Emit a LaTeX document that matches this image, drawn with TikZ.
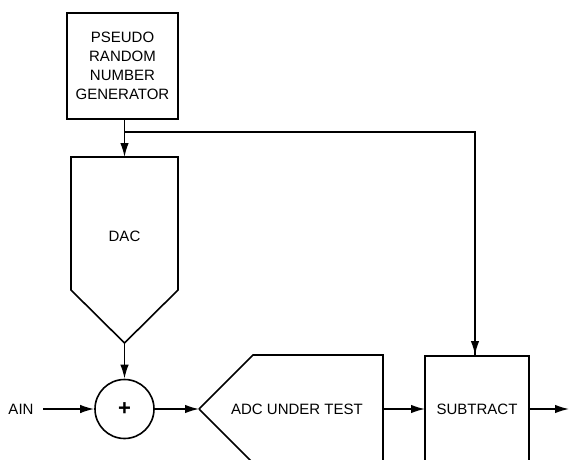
\documentclass[tikz,border=0pt]{standalone}
\usepackage{fontspec}
\setmainfont{Liberation Sans}
\usetikzlibrary{arrows.meta}
\begin{document}
\begin{tikzpicture}[x=1pt,y=-1pt,
  line width=1.6pt,
  lbl/.style={font=\fontsize{15pt}{19pt}\selectfont, align=center, inner sep=0pt},
  blk/.style={draw, fill=white, rectangle, inner sep=0pt},
  arr/.style={-{Latex[length=14pt,width=8.5pt]}}]
\clip (0,0) rectangle (571,460);
\fill[white] (0,0) rectangle (571,460);
% PRNG
\node[blk, lbl, minimum width=111pt, minimum height=106pt] (prng) at (122.5,66)
  {PSEUDO\\RANDOM\\NUMBER\\GENERATOR};
% DAC
\draw (71,157) -- (178,157) -- (178,290) -- (124.5,343) -- (71,290) -- cycle;
\node[lbl] (dac) at (124.5,236) {DAC};
\coordinate (dactop) at (124.5,157);
\coordinate (dactip) at (124.5,343);
% Summing junction
\node[draw, circle, minimum size=59pt, inner sep=0pt] (sum) at (124.5,409) {\fontsize{22pt}{22pt}\selectfont\bfseries +};
\node[lbl] (ain) at (21,409) {AIN};
% ADC
\draw (199,409) -- (253,355) -- (383,355) -- (383,480);
\draw (199,409) -- (253,463) -- (253,480);
\node[lbl] (adc) at (297,409) {ADC UNDER TEST};
\coordinate (adctip) at (199,409);
\coordinate (adcright) at (383,409);
% SUBTRACT
\node[blk, minimum width=104pt, minimum height=120pt, anchor=north] (sub) at (477,355) {};
\node[lbl] (subt) at (477,409) {SUBTRACT};
\coordinate (subw) at (425,409);
\coordinate (sube) at (529,409);
\coordinate (out) at (569,409);
\coordinate (fb) at (475,355);
% junction
\coordinate (j) at (124.5,132);
% connectors
\draw[arr] (prng.south -| dactop) -- (dactop);
\draw (j) -| (fb);
\draw[arr] (475,300) -- (fb);
\draw[arr] (dactip) -- (sum.north);
\draw[arr] (ain.east) ++(9,0) -- (sum.west);
\draw[arr] (sum.east) -- (adctip);
\draw[arr] (adcright) -- (subw);
\draw[arr] (sube) -- (out);
\end{tikzpicture}
\end{document}
